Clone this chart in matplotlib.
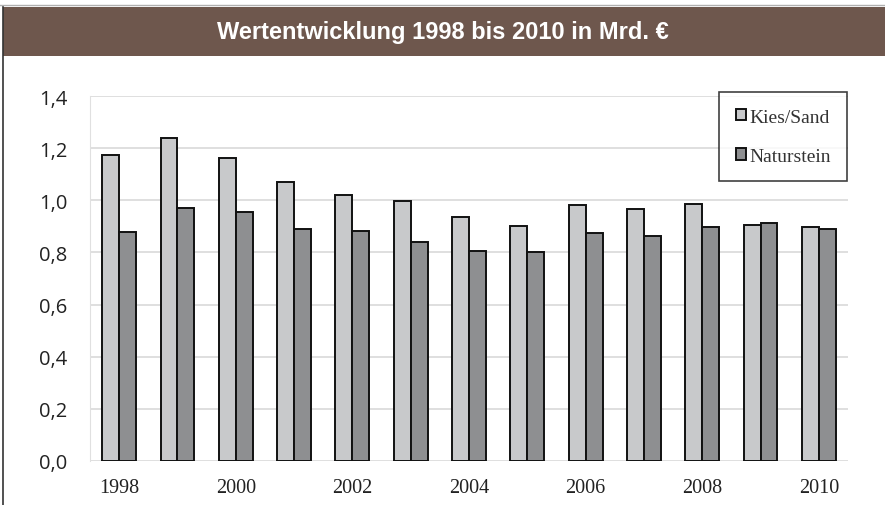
import numpy as np
import matplotlib.pyplot as plt
from matplotlib.patches import Rectangle
from matplotlib.lines import Line2D

# Werte in Mrd. Euro
jahre = list(range(1998, 2011))
kies_sand = [1.174, 1.238, 1.161, 1.069, 1.02, 0.998, 0.935, 0.903, 0.981, 0.965, 0.987, 0.906, 0.899]
naturstein = [0.88, 0.972, 0.956, 0.888, 0.882, 0.84, 0.805, 0.802, 0.873, 0.864, 0.898, 0.913, 0.891]
y_ticks = [0.0, 0.2, 0.4, 0.6, 0.8, 1.0, 1.2, 1.4]
y_labels = ['0,0', '0,2', '0,4', '0,6', '0,8', '1,0', '1,2', '1,4']
titel = 'Wertentwicklung 1998 bis 2010 in Mrd. €'

W, H = 885, 506
fig = plt.figure(figsize=(W / 100, H / 100), dpi=100)

# Kopfzeile
fig.patches.append(Rectangle((3 / W, 1 - 57 / H), 1, 49 / H, transform=fig.transFigure,
                             facecolor='#6e574d', edgecolor='none'))
fig.lines.append(Line2D([0, 1], [1 - 6 / H, 1 - 6 / H], transform=fig.transFigure,
                        color='#b0b0b0', lw=1))
fig.lines.append(Line2D([3 / W, 3 / W], [0, 1 - 8 / H], transform=fig.transFigure,
                        color='#333333', lw=1.2))
fig.text(0.5, 1 - 32 / H, titel, color='white', ha='center', va='center',
         fontsize=17, fontweight='bold', family='Liberation Sans')

ax = fig.add_axes([90 / W, (H - 462) / H, 758 / W, (462 - 97) / H])
x = np.arange(len(jahre))
b = 0.29
ax.bar(x - b / 2, kies_sand, b, color='#c8c9cb', edgecolor='#111111', linewidth=1.4,
       label='Kies/Sand', zorder=3)
ax.bar(x + b / 2, naturstein, b, color='#8e8f91', edgecolor='#111111', linewidth=1.4,
       label='Naturstein', zorder=3)

ax.set_xlim(-0.5, len(jahre) - 0.5)
ax.set_ylim(0, 1.4)
ax.set_yticks(y_ticks)
ax.set_yticklabels(y_labels, family='Open Sans', fontsize=14.5, color='#222222')
ax.set_xticks(x[::2])
ax.set_xticklabels([str(j) for j in jahre[::2]], family='Liberation Serif', fontsize=14.5,
                   color='#222222')
ax.tick_params(length=0)
ax.tick_params(axis='y', pad=16.5)
ax.tick_params(axis='x', pad=12)
ax.grid(axis='y', color='#d9d9d9', lw=1.2, zorder=0)
for s in ['top', 'right', 'bottom']:
    ax.spines[s].set_visible(False)
ax.spines['left'].set_color('#e0e0e0')

leg = ax.legend(loc='upper right', bbox_to_anchor=(0.999, 1.011), frameon=True, fancybox=False,
                prop={'family': 'Liberation Serif', 'size': 14}, handlelength=0.55,
                handleheight=0.55, handletextpad=0.15, labelspacing=1.15,
                borderpad=0.85, borderaxespad=0.0)
leg.get_frame().set_edgecolor('#111111')
leg.get_frame().set_linewidth(1.2)
for t in leg.get_texts():
    t.set_color('#333333')

fig.savefig('out.png', dpi=100)
